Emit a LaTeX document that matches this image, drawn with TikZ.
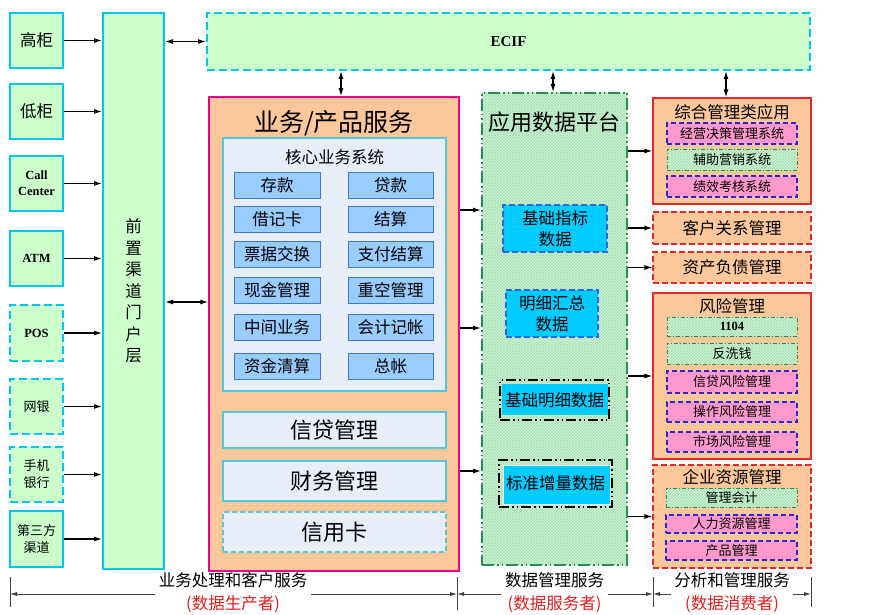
\documentclass[tikz,border=0pt]{standalone}
\usepackage{fontspec}
\setmainfont{Noto Sans CJK SC}
\newfontfamily\latinfont{Liberation Serif}
\usetikzlibrary{patterns, arrows.meta}

\definecolor{chgreen}{RGB}{204,255,204}
\definecolor{chcyan}{RGB}{0,200,235}
\definecolor{peach}{RGB}{252,200,155}
\definecolor{corefill}{RGB}{232,238,248}
\definecolor{coreline}{RGB}{80,200,215}
\definecolor{btnfill}{RGB}{153,204,255}
\definecolor{btnline}{RGB}{60,120,215}
\definecolor{datafill}{RGB}{0,204,255}
\definecolor{dataline}{RGB}{50,100,230}
\definecolor{appline}{RGB}{40,140,90}
\definecolor{appfill}{RGB}{214,247,219}
\definecolor{hatch}{RGB}{165,222,175}
\definecolor{redline}{RGB}{230,40,40}
\definecolor{pinkfill}{RGB}{255,153,204}
\definecolor{pinkline}{RGB}{40,40,210}
\definecolor{labred}{RGB}{225,30,30}

\begin{document}
\begin{tikzpicture}[x = 1pt, y = -1pt,
  spans/.style args = {#1/#2/#3/#4}{at = {({(#1+#3)/2}, {(#2+#4)/2})},
    minimum width = {(#3-#1)*1pt}, minimum height = {(#4-#2)*1pt}},
  txtbig/.style = {font = \fontsize{25}{30}\selectfont},
  txtlarge/.style = {font = \fontsize{22}{26}\selectfont},
  txtmid/.style = {font = \fontsize{16.5}{21}\selectfont},
  txtsmall/.style = {font = \fontsize{13}{17}\selectfont},
  latin/.style = {font = \latinfont\bfseries\fontsize{12.5}{16}\selectfont},
  box/.style = {inner sep = 0pt, align = center},
  chan/.style = {box, draw = chcyan, fill = chgreen, line width = 2pt},
  chandash/.style = {chan, dash pattern = on 8pt off 4pt},
  bizbox/.style = {box, draw = magenta, fill = peach, line width = 1.5pt},
  panel/.style = {box, draw = coreline, fill = corefill, line width = 1.2pt},
  btn/.style = {box, draw = btnline, fill = btnfill, line width = 1pt, txtmid},
  appbox/.style = {box, draw = appline, line width = 2pt,
    preaction = {fill = appfill}, pattern = crosshatch, pattern color = hatch,
    dash pattern = on 12pt off 3pt on 1.5pt off 3pt on 1.5pt off 3pt},
  databox/.style = {box, draw = dataline, fill = datafill, line width = 1.5pt,
    dash pattern = on 6pt off 3pt, txtmid},
  dataframe/.style = {box, draw = black, line width = 2pt, txtmid,
    dash pattern = on 10pt off 3pt on 1.5pt off 3pt on 1.5pt off 3pt},
  redbox/.style = {box, draw = redline, fill = peach, line width = 1.2pt},
  reddash/.style = {dash pattern = on 6pt off 3pt},
  pinkbox/.style = {box, draw = pinkline, fill = pinkfill, line width = 1.2pt,
    dash pattern = on 5pt off 3pt, txtsmall},
  greenbox/.style = {box, draw = appline, line width = 0.8pt, txtsmall,
    preaction = {fill = appfill}, pattern = crosshatch, pattern color = hatch,
    dash pattern = on 4pt off 2pt on 1pt off 2pt},
  labtxt/.style = {font = \fontsize{16.5}{23}\selectfont, align = center},
  arr/.style = {-{Latex[length = 8pt, width = 5pt]}, line width = 1.2pt},
  dbl/.style = {{Latex[length = 8pt, width = 5pt]}-{Latex[length = 8pt, width = 5pt]}, line width = 1.2pt},
  arrthin/.style = {-{Latex[length = 7pt, width = 4pt]}, line width = 0.8pt, draw = black!75},
  tickline/.style = {line width = 0.8pt, draw = black!75}]

\useasboundingbox [fill = white] (0, 0) rectangle (891, 615);

\node [chan, txtmid, spans = 10/13/63/68] (gaogui) {高柜};
\node [chan, txtmid, spans = 10/84/63/139] (digui) {低柜};
\node [chan, latin, spans = 10/156/63/211] (callc) {Call\\Center};
\node [chan, latin, spans = 10/231/63/286] (atm) {ATM};
\node [chandash, latin, spans = 10/305/63/361] (pos) {POS};
\node [chandash, txtsmall, spans = 10/379/63/434] (wangyin) {网银};
\node [chandash, txtsmall, spans = 10/447/63/502] (shouji) {手机\\银行};
\node [chan, txtsmall, spans = 10/511/63/567] (disanfang) {第三方\\渠道};

\node [chan, font = \fontsize{16.5}{21.5}\selectfont, spans = 103/13/164/569] (portal) {前\\置\\渠\\道\\门\\户\\层};

\node [chandash, font = \latinfont\bfseries\fontsize{15}{18}\selectfont, spans = 207/13/810/70] (ecif) {ECIF};

\node [bizbox, spans = 209/97/459/571] (biz) {};
\node [txtbig] (bizT) at (334, 123) {业务/产品服务};
\node [panel, spans = 223/138/446/391] (core) {};
\node [txtmid] (coreT) at (334.5, 157) {核心业务系统};
\foreach \ya/\yb/\l/\r [count = \i] in {172/198/存款/贷款, 206/232/借记卡/结算,
  241/267/票据交换/支付结算, 277/303/现金管理/重空管理,
  314/340/中间业务/会计记帐, 353/379/资金清算/总帐}
{
  \node [btn, spans = 234/\ya/320/\yb] (btnl\i) {\l};
  \node [btn, spans = 348/\ya/433/\yb] (btnr\i) {\r};
}
\node [panel, txtlarge, spans = 223/412/446/448] (xindai) {信贷管理};
\node [panel, txtlarge, spans = 223/461/446/501] (caiwu) {财务管理};
\node [panel, txtlarge, dash pattern = on 5pt off 3pt, spans = 223/512/446/552] (xyk) {信用卡};

\node [appbox, spans = 482/93/627/565] (app) {};
\node [txtlarge] (appT) at (554.5, 122) {应用数据平台};
\node [databox, spans = 503/205/607/252] (jczb) {基础指标\\数据};
\node [databox, spans = 506/290/598/337] (mxhz) {明细汇总\\数据};
\fill [datafill] (502, 384) rectangle (608, 415);
\node [dataframe, spans = 500/380/609/420] (jcmx) {基础明细数据};
\filldraw [fill = datafill, draw = corefill, line width = 1pt] (503, 465) rectangle (610, 504);
\node [dataframe, spans = 499/460/612/507] (bzzl) {标准增量数据};

\node [redbox, spans = 653/98/811/204] (zhgl) {};
\node [txtmid] (zhglT) at (732, 112) {综合管理类应用};
\node [pinkbox, spans = 667/123/797/144] (jyjc) {经营决策管理系统};
\node [greenbox, spans = 667/149/797/170] (fzyx) {辅助营销系统};
\node [pinkbox, spans = 667/176/797/197] (jxkh) {绩效考核系统};
\node [redbox, reddash, txtmid, spans = 653/212/811/244] (khgx) {客户关系管理};
\node [redbox, reddash, txtmid, spans = 653/252/811/283] (zcfz) {资产负债管理};
\node [redbox, spans = 653/293/811/459] (fxgl) {};
\node [txtmid] (fxglT) at (732, 306) {风险管理};
\node [greenbox, latin, spans = 667/317/797/336] (r1104) {1104};
\node [greenbox, spans = 667/343/797/364] (fxq) {反洗钱};
\node [pinkbox, spans = 667/371/797/393] (xdfx) {信贷风险管理};
\node [pinkbox, spans = 667/402/797/422] (czfx) {操作风险管理};
\node [pinkbox, spans = 667/432/797/452] (scfx) {市场风险管理};
\node [redbox, reddash, spans = 653/465/811/568] (qyzy) {};
\node [txtmid] (qyzyT) at (732, 477) {企业资源管理};
\node [greenbox, spans = 666/488/797/507] (glkj) {管理会计};
\node [pinkbox, spans = 666/515/797/533] (rlzy) {人力资源管理};
\node [pinkbox, spans = 666/541/797/560] (cpgl) {产品管理};

\foreach \n in {gaogui, digui, callc, atm, pos, wangyin, shouji, disanfang}
  \draw [arr] (\n.east) -- (\n.east -| portal.west);

\coordinate (pb) at (190, 302);
\draw [dbl] (portal.east |- ecif.west) -- (ecif.west);
\draw [dbl] (portal.east |- pb) -- (biz.west |- pb);

\coordinate (ea) at (341, 70);
\coordinate (eb) at (553, 70);
\coordinate (ec) at (726, 70);
\draw [dbl] (ecif.south -| ea) -- (biz.north -| ea);
\draw [dbl] (ecif.south -| eb) -- (app.north -| eb);
\draw [dbl] (ecif.south -| ec) -- (zhgl.north -| ec);

\foreach \y in {210, 328, 471}
  \draw [arr] (biz.east |- 0, \y) -- (app.west |- 0, \y);
\foreach \n in {zhgl, khgx, zcfz, fxgl, qyzy}
  \draw [arr] (app.east |- \n.west) -- (\n.west);

\node [labtxt] (labprod) at (233, 593) {业务处理和客户服务\\\textcolor{labred}{(数据生产者)}};
\node [labtxt] (labsrv) at (554.5, 593) {数据管理服务\\\textcolor{labred}{(数据服务者)}};
\node [labtxt] (labcon) at (732, 593) {分析和管理服务\\\textcolor{labred}{(数据消费者)}};

\foreach \x/\b in {10/607, 457/610, 653/607, 811/607}
  \draw [tickline] (\x, 577) -- (\x, \b);
\coordinate (tk1) at (10, 594);
\coordinate (tk2) at (457, 594);
\coordinate (tk3) at (653, 594);
\coordinate (tk4) at (811, 594);
\draw [arrthin] (labprod.west |- tk1) -- (tk1);
\draw [arrthin] (labprod.east |- tk2) -- (tk2);
\draw [arrthin] (labsrv.west |- tk2) -- (tk2);
\draw [arrthin] (labsrv.east |- tk3) -- (tk3);
\draw [arrthin] (labcon.west |- tk3) -- (tk3);
\draw [arrthin] (labcon.east |- tk4) -- (tk4);
\end{tikzpicture}
\end{document}
